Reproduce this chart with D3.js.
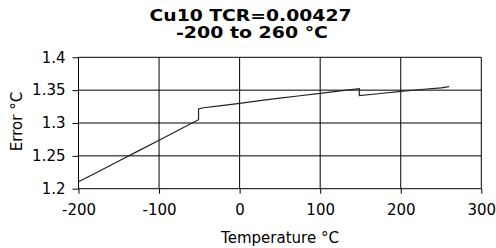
<!DOCTYPE html>
<meta charset="utf-8">
<style>
  body { margin: 0; background: #fff; }
  text { font-family: "DejaVu Sans", Verdana, sans-serif; fill: #000; }
</style>
<body>
<div id="chart"></div>
<script src="https://cdn.jsdelivr.net/npm/d3@7"></script>
<script>
  // data (temperature °C -> error °C)
  var temps  = [-200, -175, -150, -125, -100, -75, -51, -51, -45, -25, 0, 25, 50, 75, 100, 125, 148.6, 148.6, 175, 200, 225, 250, 260];
  var errors = [1.2105, 1.2263, 1.2422, 1.258, 1.2738, 1.2897, 1.3050, 1.3215, 1.3232, 1.326, 1.330, 1.334, 1.338, 1.3415, 1.345, 1.349, 1.3522, 1.3417, 1.3449, 1.348, 1.351, 1.3535, 1.3553];
  var xTicks = [-200, -100, 0, 100, 200, 300];
  var yTicks = [1.2, 1.25, 1.3, 1.35, 1.4];
  var titleLines = ["Cu10 TCR=0.00427", "-200 to 260 °C"];

  var width = 496, height = 248;
  var mLeft = 78.5, mRight = 481.3, mTop = 57.3, mBottom = 188.7;

  var svg = d3.select("#chart").append("svg")
      .attr("width", width)
      .attr("height", height);

  var x = d3.scaleLinear().domain([-200, 300]).range([mLeft, mRight]);
  var y = d3.scaleLinear().domain([1.2, 1.4]).range([mBottom, mTop]);

  // grid
  svg.append("g").selectAll("line")
    .data(yTicks).enter().append("line")
      .attr("x1", mLeft).attr("x2", mRight)
      .attr("y1", d => y(d)).attr("y2", d => y(d))
      .attr("stroke", "#000").attr("stroke-width", 1);

  svg.append("g").selectAll("line")
    .data(xTicks).enter().append("line")
      .attr("y1", mTop).attr("y2", mBottom)
      .attr("x1", d => x(d)).attr("x2", d => x(d))
      .attr("stroke", "#000").attr("stroke-width", 1);

  // axes
  var xAxis = svg.append("g")
      .attr("transform", "translate(0," + mBottom + ")")
      .call(d3.axisBottom(x).tickValues(xTicks).tickSize(5).tickPadding(11).tickFormat(d => String(d)));
  var yAxis = svg.append("g")
      .attr("transform", "translate(" + mLeft + ",0)")
      .call(d3.axisLeft(y).tickValues(yTicks).tickSize(6).tickPadding(7).tickFormat(d => String(+d.toFixed(2))));

  [xAxis, yAxis].forEach(function(a) {
    a.select(".domain").remove();
    a.selectAll("text").style("font-size", "15px").style("font-family", '"DejaVu Sans", Verdana, sans-serif').attr("fill", "#000");
    a.selectAll(".tick line").attr("stroke", "#000");
  });

  // series
  var pts = temps.map((t, i) => [t, errors[i]]);
  svg.append("path")
      .datum(pts)
      .attr("fill", "none")
      .attr("stroke", "#222")
      .attr("stroke-width", 1.2)
      .attr("d", d3.line().x(d => x(d[0])).y(d => y(d[1])));

  // titles
  svg.append("text")
      .attr("x", 250.5).attr("y", 21)
      .attr("text-anchor", "middle")
      .attr("font-weight", "bold")
      .attr("font-size", 15)
      .attr("textLength", 202).attr("lengthAdjust", "spacingAndGlyphs")
      .text(titleLines[0]);
  svg.append("text")
      .attr("x", 252).attr("y", 38)
      .attr("text-anchor", "middle")
      .attr("font-weight", "bold")
      .attr("font-size", 15)
      .attr("textLength", 152).attr("lengthAdjust", "spacingAndGlyphs")
      .text(titleLines[1]);

  svg.append("text")
      .attr("x", 280).attr("y", 243)
      .attr("text-anchor", "middle")
      .attr("font-size", 15)
      .text("Temperature °C");

  svg.append("text")
      .attr("transform", "translate(21.5,121.5) rotate(-90)")
      .attr("text-anchor", "middle")
      .attr("font-size", 15)
      .text("Error °C");
</script>
</body>
